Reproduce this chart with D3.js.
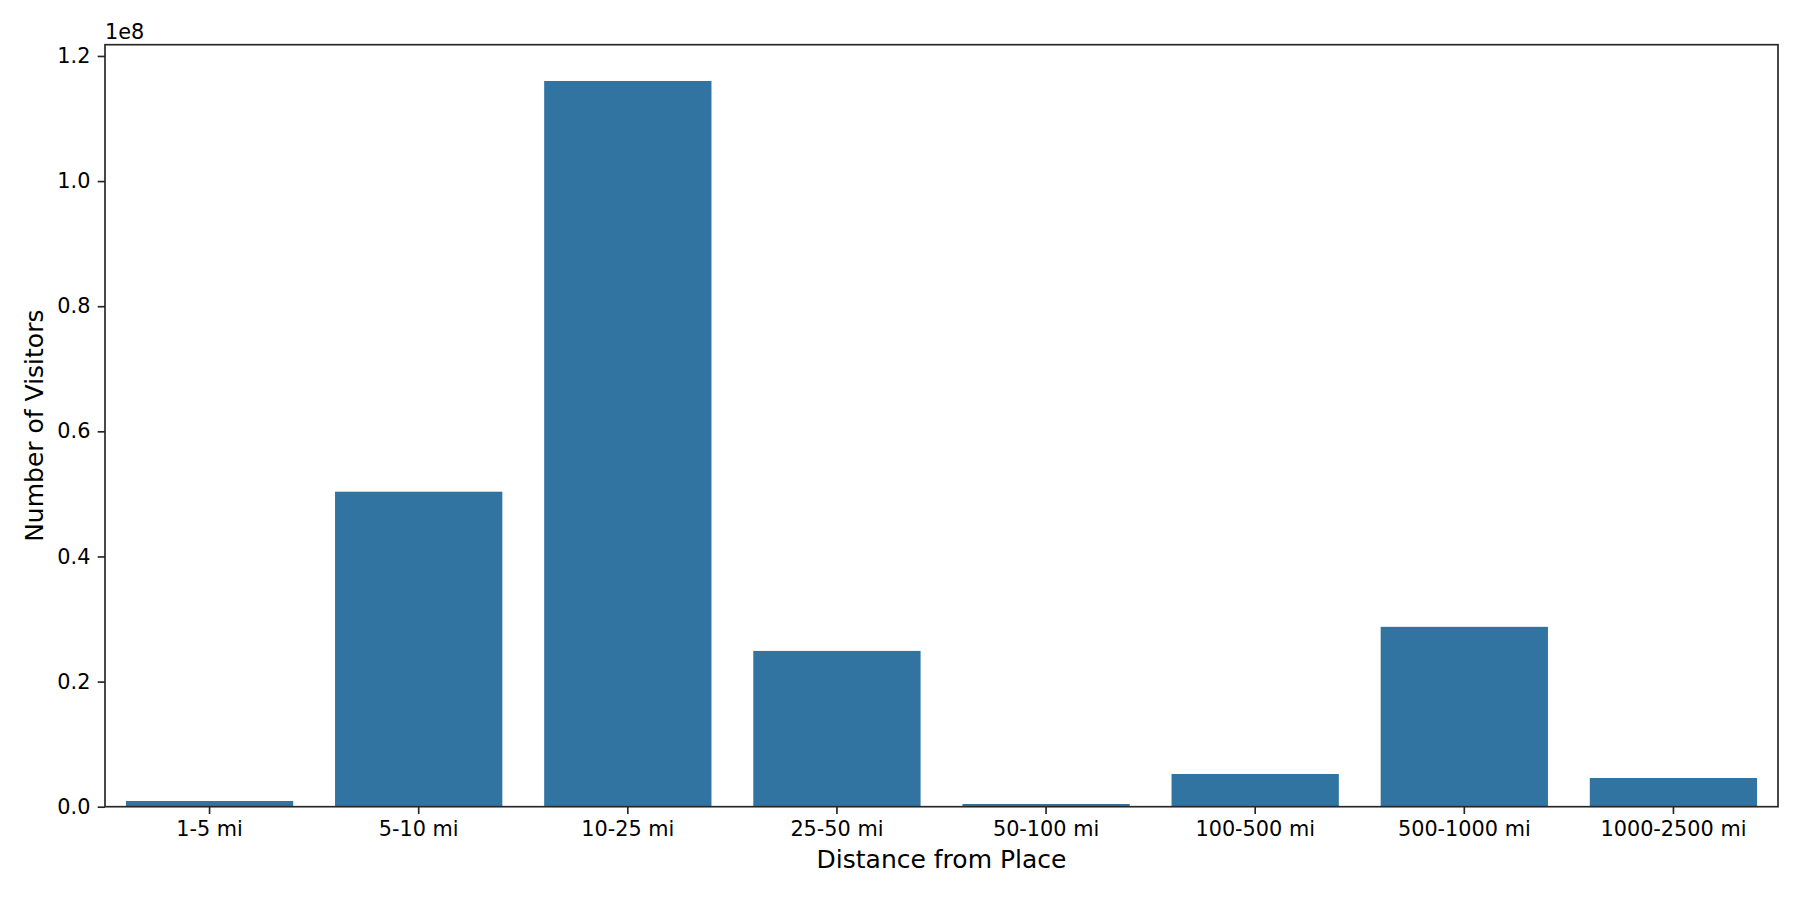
<!DOCTYPE html>
<html>
<head>
<meta charset="utf-8">
<script src="https://cdn.jsdelivr.net/npm/d3@7"></script>
<style>
  body { margin: 0; background: #fff; }
  svg text { font-family: "DejaVu Sans", sans-serif; fill: #000; }
</style>
</head>
<body>
<svg id="chart" width="1800" height="900"></svg>
<script>
// distance bands and visitor counts
var categories = ["1-5 mi", "5-10 mi", "10-25 mi", "25-50 mi", "50-100 mi", "100-500 mi", "500-1000 mi", "1000-2500 mi"];
var visitors = [0.91e6, 50.35e6, 116.0e6, 24.9e6, 0.43e6, 5.23e6, 28.75e6, 4.59e6];
var yTicks = [0, 0.2e8, 0.4e8, 0.6e8, 0.8e8, 1.0e8, 1.2e8];

var svg = d3.select("#chart");
var margin = { left: 105, right: 22, top: 44.7, bottom: 93.3 };
var width = 1800 - margin.left - margin.right,
  height = 900 - margin.top - margin.bottom;

var axisColor = "#262626";
var barColor = "#3274a1";

var g = svg.append("g")
  .attr("transform", "translate(" + margin.left + "," + margin.top + ")");

var x = d3.scaleBand()
  .domain(categories)
  .range([0, width])
  .paddingInner(0.2)
  .paddingOuter(0.1);

var y = d3.scaleLinear()
  .domain([0, d3.max(visitors) * 1.05])
  .range([height, 0]);

// bars
g.selectAll(".bar")
  .data(visitors)
  .enter().append("rect")
  .attr("class", "bar")
  .attr("x", function (d, i) { return x(categories[i]); })
  .attr("y", function (d) { return y(d); })
  .attr("width", x.bandwidth())
  .attr("height", function (d) { return height - y(d); })
  .attr("fill", barColor);

// axes
var xAxis = g.append("g")
  .attr("transform", "translate(0," + height + ")")
  .call(d3.axisBottom(x).tickSize(7.3).tickPadding(7.3));

var yAxis = g.append("g")
  .call(d3.axisLeft(y).tickValues(yTicks).tickSize(7.3).tickPadding(7.3)
    .tickFormat(function (d) { return (d / 1e8).toFixed(1); }));

[xAxis, yAxis].forEach(function (ax) {
  ax.select(".domain").remove();
  ax.selectAll(".tick line").attr("stroke", axisColor).attr("stroke-width", 1.67);
  ax.selectAll(".tick text")
    .attr("fill", "#000")
    .style("font-family", "DejaVu Sans")
    .style("font-size", "20.8px");
});
xAxis.selectAll(".tick text").attr("dy", "0.72em");

// frame
g.append("rect")
  .attr("x", 0).attr("y", 0)
  .attr("width", width).attr("height", height)
  .attr("fill", "none")
  .attr("stroke", axisColor)
  .attr("stroke-width", 1.67);

// offset text
g.append("text")
  .attr("x", 0)
  .attr("y", -6)
  .style("font-size", "20.8px")
  .text("1e8");

// axis labels
svg.append("text")
  .attr("x", margin.left + width / 2)
  .attr("y", 868)
  .attr("text-anchor", "middle")
  .style("font-size", "25px")
  .text("Distance from Place");

svg.append("text")
  .attr("transform", "translate(43," + (margin.top + height / 2) + ") rotate(-90)")
  .attr("text-anchor", "middle")
  .style("font-size", "25px")
  .text("Number of Visitors");
</script>
</body>
</html>
